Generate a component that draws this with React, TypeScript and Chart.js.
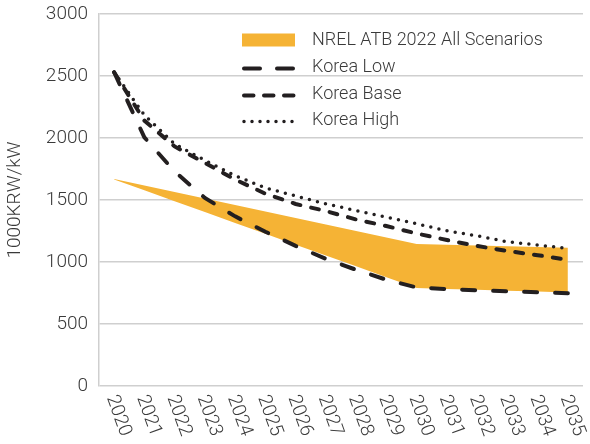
import { useEffect, useRef } from 'react';
import { Chart, registerables } from 'chart.js';

Chart.register(...registerables);

const years = ['2020', '2021', '2022', '2023', '2024', '2025', '2026', '2027', '2028', '2029', '2030', '2031', '2032', '2033', '2034', '2035'];
const nrelUpper = [1670, 1617, 1565, 1512, 1460, 1407, 1355, 1302, 1250, 1197, 1145, 1139, 1133, 1127, 1121, 1115];
const nrelLower = [1665, 1578, 1490, 1403, 1315, 1228, 1140, 1053, 965, 878, 790, 783, 776, 769, 762, 755];
const koreaLow = [2530, 2005, 1730, 1517, 1368, 1244, 1130, 1026, 937, 857, 795, 782, 772, 764, 756, 748];
const koreaBase = [2530, 2140, 1932, 1799, 1665, 1551, 1468, 1411, 1343, 1290, 1230, 1177, 1129, 1089, 1055, 1018];
const koreaHigh = [2530, 2185, 1952, 1820, 1697, 1598, 1533, 1469, 1415, 1362, 1308, 1252, 1211, 1163, 1137, 1109];
const seriesLabels = ['Korea Low', 'Korea Base', 'Korea High', 'NREL ATB 2022 All Scenarios'];
const yAxisTitle = '1000KRW/kW';

const FONT = 'Roboto, "Noto Sans", sans-serif';
const TEXT = '#3a3a3a';
const INK = '#231f20';
const BAND = '#f5b335';
const GRID = '#cfcfcf';

const xLabelsPlugin = {
  id: 'xLabels',
  afterDraw(chart: any) {
    const { ctx, chartArea } = chart;
    const xs = chart.scales.x;
    ctx.save();
    ctx.font = `300 19px ${FONT}`;
    ctx.fillStyle = TEXT;
    ctx.textAlign = 'left';
    ctx.textBaseline = 'middle';
    years.forEach((label, i) => {
      const x = xs.getPixelForValue(i);
      ctx.save();
      ctx.translate(x - 3, chartArea.bottom + 10);
      ctx.rotate((70 * Math.PI) / 180);
      ctx.fillText(label, 0, 0);
      ctx.restore();
    });
    ctx.restore();
  },
};

const legendPlugin = {
  id: 'customLegend',
  afterDraw(chart: any) {
    const { ctx } = chart;
    const ds = chart.data.datasets;
    const items = [ds[3], ds[0], ds[1], ds[2]];
    const x0 = 242;
    const x1 = 295;
    const textX = 312;
    const rows = [40, 67, 94, 120];
    ctx.save();
    items.forEach((d: any, i: number) => {
      const y = rows[i];
      if (d.fill) {
        ctx.fillStyle = d.backgroundColor;
        ctx.fillRect(x0, y - 6.5, x1 - x0, 13);
      } else {
        ctx.save();
        ctx.strokeStyle = d.borderColor;
        ctx.lineWidth = d.borderWidth;
        ctx.lineCap = 'round';
        ctx.setLineDash(d.legendDash);
        ctx.beginPath();
        ctx.moveTo(x0 + 2, y + 1.5);
        ctx.lineTo(x1 - 1, y + 1.5);
        ctx.stroke();
        ctx.restore();
      }
      ctx.font = `300 18px ${FONT}`;
      ctx.fillStyle = TEXT;
      ctx.textAlign = 'left';
      ctx.textBaseline = 'middle';
      ctx.fillText(d.label, textX, y);
    });
    ctx.restore();
  },
};

export default function App() {
  const ref = useRef<HTMLCanvasElement>(null);
  useEffect(() => {
    if (!ref.current) return;
    const lineBase = {
      borderColor: INK,
      borderCapStyle: 'round' as const,
      pointRadius: 0,
      tension: 0,
      fill: false,
    };
    const chart = new Chart(ref.current, {
      type: 'line',
      data: {
        labels: years,
        datasets: [
          { ...lineBase, label: seriesLabels[0], data: koreaLow, borderWidth: 4, borderDash: [13, 18], legendDash: [16, 17] } as any,
          { ...lineBase, label: seriesLabels[1], data: koreaBase, borderWidth: 4, borderDash: [8, 11], legendDash: [9.5, 10.5] } as any,
          { ...lineBase, label: seriesLabels[2], data: koreaHigh, borderWidth: 3.5, borderDash: [0, 8.3], legendDash: [0, 8] } as any,
          {
            label: seriesLabels[3],
            data: nrelUpper,
            borderWidth: 0,
            borderColor: 'rgba(0,0,0,0)',
            backgroundColor: BAND,
            pointRadius: 0,
            tension: 0,
            fill: '+1',
          } as any,
          {
            label: '',
            data: nrelLower,
            borderWidth: 0,
            borderColor: 'rgba(0,0,0,0)',
            pointRadius: 0,
            tension: 0,
            fill: false,
          } as any,
        ],
      },
      options: {
        animation: false,
        responsive: false,
        maintainAspectRatio: false,
        layout: { padding: { top: 14, right: 7, left: 0, bottom: 0 } },
        plugins: {
          legend: { display: false },
          tooltip: { enabled: false },
          title: { display: false },
        },
        scales: {
          x: {
            offset: true,
            grid: { display: false, drawTicks: false },
            border: { display: false },
            ticks: { display: false },
            afterFit: (s: any) => {
              s.height = 58;
              s.paddingLeft = 0;
              s.paddingRight = 0;
            },
          },
          y: {
            min: 0,
            max: 3000,
            ticks: {
              stepSize: 500,
              padding: 11,
              color: TEXT,
              font: { family: FONT, size: 19, weight: '300' as any },
              callback: (v: any) => String(v),
            },
            grid: { color: GRID, lineWidth: 1.5, drawTicks: false },
            border: { display: true, color: GRID, width: 1.5 },
            title: {
              display: true,
              text: yAxisTitle,
              color: TEXT,
              padding: { top: 4, bottom: 0 },
              font: { family: FONT, size: 19, weight: '300' as any },
            },
            afterFit: (s: any) => {
              s.width = 99;
              s.paddingTop = 0;
              s.paddingBottom = 0;
            },
          },
        },
      },
      plugins: [xLabelsPlugin, legendPlugin],
    });
    return () => chart.destroy();
  }, []);
  return (
    <div style={{ position: 'absolute', left: 0, top: 0, width: 590, height: 444, background: '#fff' }}>
      <canvas ref={ref} width={590} height={444} style={{ width: 590, height: 444, display: 'block' }} />
    </div>
  );
}
